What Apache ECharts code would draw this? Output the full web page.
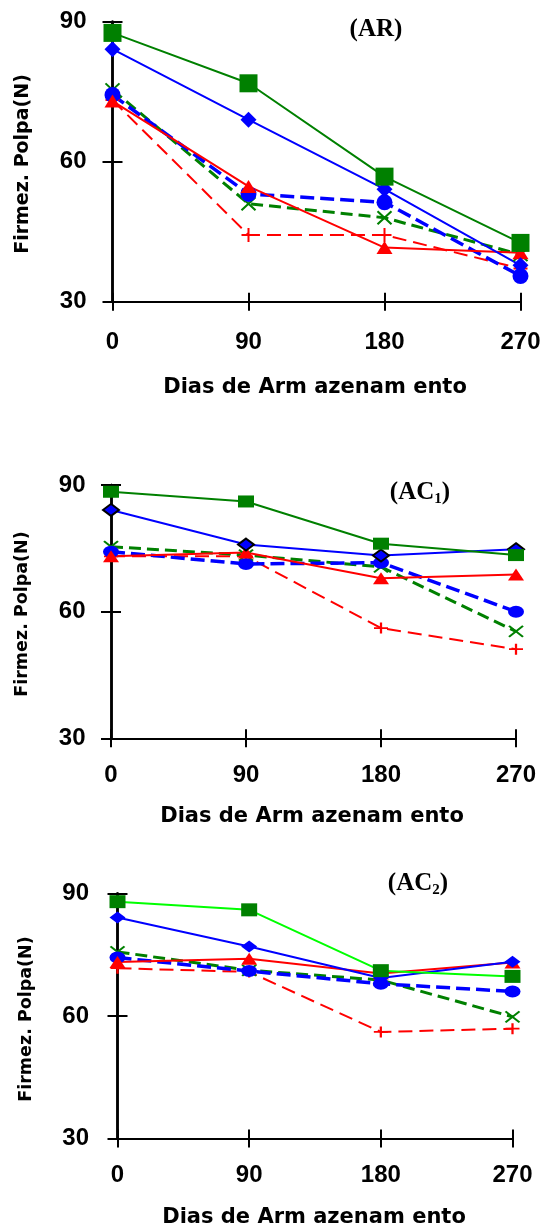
<!DOCTYPE html>
<html><head><meta charset="utf-8">
<script src="https://cdn.jsdelivr.net/npm/echarts@6/dist/echarts.min.js"></script>
<style>html,body{margin:0;padding:0;background:#fff}#c{width:547px;height:1231px}</style>
</head><body><div id="c"></div>
<script>
// ---- data ----
const days = [0, 90, 180, 270];
const yTicks = [30, 60, 90];
const xTitle = 'Dias de Arm azenam ento';
const yTitle = 'Firmez. Polpa(N)';
// (AR)
const arSquare  = [87.6, 76.8, 56.8, 42.6];
const arDiamond = [84.1, 69.0, 54.1, 37.8];
const arTriangle= [73.0, 54.7, 41.6, 40.5];
const arCircle  = [74.3, 53.1, 51.3, 35.5];
const arCross   = [75.4, 51.0, 48.0, 40.1];
const arPlus    = [73.2, 44.3, 44.3, 37.1];
// (AC1)
const ac1Square  = [88.4, 86.1, 76.1, 73.4];
const ac1Diamond = [84.1, 75.9, 73.3, 74.8];
const ac1Triangle= [73.1, 74.0, 67.9, 68.8];
const ac1Circle  = [74.2, 71.3, 71.6, 60.0];
const ac1Cross   = [75.4, 73.4, 70.6, 55.3];
const ac1Plus    = [73.1, 73.1, 56.1, 51.1];
// (AC2)
const ac2Square  = [88.0, 86.0, 71.1, 69.7];
const ac2Diamond = [84.1, 77.0, 69.3, 73.3];
const ac2Triangle= [73.2, 74.0, 70.4, 73.1];
const ac2Circle  = [74.3, 71.0, 67.9, 66.0];
const ac2Cross   = [75.7, 71.2, 68.8, 59.8];
const ac2Plus    = [71.7, 70.8, 56.1, 56.9];

const panels = [
  {title:'{a|(AR)}', tx:376, ty:30, sets:[arSquare, arDiamond, arTriangle, arCircle, arCross, arPlus]},
  {title:'{a|(AC}{b|1}{a|)}', tx:420, ty:493, sets:[ac1Square, ac1Diamond, ac1Triangle, ac1Circle, ac1Cross, ac1Plus]},
  {title:'{a|(AC}{b|2}{a|)}', tx:418, ty:884, sets:[ac2Square, ac2Diamond, ac2Triangle, ac2Circle, ac2Cross, ac2Plus]}
];

// ---- layout ----
const grids = [
  {left:112.5, top:21.7, width:408, height:280},
  {left:111, top:485, width:405, height:253.3},
  {left:117.5, top:893.5, width:395, height:245}
];
const yLabMargin = [26, 25.5, 28.5];
const xLabMargin = [29, 25, 25];
const yTitlePos = [[22.7,164,19],[22.7,614,17.5],[26,1019,17.5]];
const xTitlePos = [[315,388],[312,817],[314,1218]];

const GREEN='#008000', LGREEN='#00ff00', BLUE='#0000ff', RED='#ff0000';
const crossPath = 'path://M0,0L10,10M10,0L0,10';
const plusPath = 'path://M5,0L5,10M0,5L10,5';

const labelFont = {fontSize:24, fontWeight:'bold', fontFamily:'Liberation Sans', color:'#000'};

const xAxes=[], yAxes=[], series=[], graphic=[];
grids.forEach((g,i)=>{
  const xBase = {gridIndex:i, type:'value', position:'bottom', min:0, max:270, interval:90, splitLine:{show:false}};
  xAxes.push(Object.assign({}, xBase, {
    axisLine:{show:true, onZero:false, lineStyle:{color:'#000', width:2}},
    axisTick:{show:true, length:9, lineStyle:{color:'#000', width:2}},
    axisLabel:Object.assign({margin:xLabMargin[i], formatter: v => days.includes(v) ? String(v) : ''}, labelFont)
  }));
  xAxes.push(Object.assign({}, xBase, {
    axisLine:{show:true, onZero:false, lineStyle:{color:'#000', width:2}},
    axisTick:{show:true, inside:true, length:9, lineStyle:{color:'#000', width:2}},
    axisLabel:{show:false}
  }));
  const yBase = {gridIndex:i, type:'value', min:30, max:90, interval:30, position:'left', splitLine:{show:false}};
  yAxes.push(Object.assign({}, yBase, {
    axisLine:{show:true, onZero:false, lineStyle:{color:'#000', width:2.5}},
    axisTick:{show:true, length:10, lineStyle:{color:'#000', width:2}},
    axisLabel:Object.assign({margin:yLabMargin[i], formatter: v => yTicks.includes(v) ? String(v) : ''}, labelFont)
  }));
  yAxes.push(Object.assign({}, yBase, {
    axisLine:{show:true, onZero:false, lineStyle:{color:'#000', width:2.5}},
    axisTick:{show:true, inside:true, length:10, lineStyle:{color:'#000', width:2}},
    axisLabel:{show:false}
  }));

  const p = panels[i];
  const big = i===0;
  const pts = arr => days.map((d,k)=>[d, arr[k]]);
  const base = {type:'line', xAxisIndex:2*i, yAxisIndex:2*i, clip:false, silent:true, animation:false, showAllSymbol:true};
  const [sq, dia, tri, cir, crs, pls] = p.sets;
  series.push(Object.assign({}, base, {data:pts(pls), symbol:plusPath, symbolSize: big?[14,14]:[14,11],
    itemStyle:{color:'rgba(0,0,0,0)', borderColor:RED, borderWidth:2},
    lineStyle:{color:RED, width:2, type:[14,7]}}));
  series.push(Object.assign({}, base, {data:pts(crs), symbol:crossPath, symbolSize: big?[14,13]:[14,11],
    itemStyle:{color:'rgba(0,0,0,0)', borderColor:GREEN, borderWidth:2},
    lineStyle:{color:GREEN, width:3, type:[12,6]}}));
  series.push(Object.assign({}, base, {data:pts(cir), symbol:'circle', symbolSize: big?[16,16]:[16,12],
    itemStyle:{color:BLUE},
    lineStyle:{color:BLUE, width:3.5, type:[14,6]}}));
  series.push(Object.assign({}, base, {data:pts(tri), symbol:'triangle', symbolSize: big?[16,13]:[16,12],
    itemStyle:{color:RED},
    lineStyle:{color:RED, width:2, type:'solid'}}));
  series.push(Object.assign({}, base, {data:pts(dia), symbol:'diamond', symbolSize: big?[16,16]:[16,12],
    itemStyle: i===1 ? {color:BLUE, borderColor:'#000', borderWidth:2} : {color:BLUE},
    lineStyle:{color:BLUE, width:2, type:'solid'}}));
  series.push(Object.assign({}, base, {data:pts(sq), symbol:'rect', symbolSize: big?[18,18]:(i===1?[16,12]:[16,13]),
    itemStyle:{color:GREEN},
    lineStyle:{color: i===2 ? LGREEN : GREEN, width:2, type:'solid'}}));

  graphic.push({type:'text', x:p.tx, y:p.ty, silent:true, style:{
    text:p.title, align:'center', verticalAlign:'middle', fill:'#000',
    rich:{
      a:{fontSize:25, fontWeight:'bold', fontFamily:'Liberation Serif', lineHeight:28, fill:'#000'},
      b:{fontSize:15, fontWeight:'bold', fontFamily:'Liberation Serif', lineHeight:15, verticalAlign:'bottom', fill:'#000'}
    }}});
  const yt = yTitlePos[i];
  graphic.push({type:'text', x:yt[0], y:yt[1], rotation:Math.PI/2, silent:true, style:{
    text:yTitle, x:0, y:0, align:'center', verticalAlign:'middle', fill:'#000',
    font:'bold '+yt[2]+'px "DejaVu Sans"'}});
  const xt = xTitlePos[i];
  graphic.push({type:'text', x:xt[0], y:xt[1], silent:true, style:{
    text:xTitle, x:0, y:0, align:'center', verticalAlign:'middle', fill:'#000',
    font:'bold 21px "DejaVu Sans"'}});
});

const chart = echarts.init(document.getElementById('c'));
chart.setOption({
  animation:false,
  backgroundColor:'#fff',
  grid: grids.map(g=>Object.assign({containLabel:false}, g)),
  xAxis:xAxes, yAxis:yAxes, series, graphic
});
</script></body></html>
